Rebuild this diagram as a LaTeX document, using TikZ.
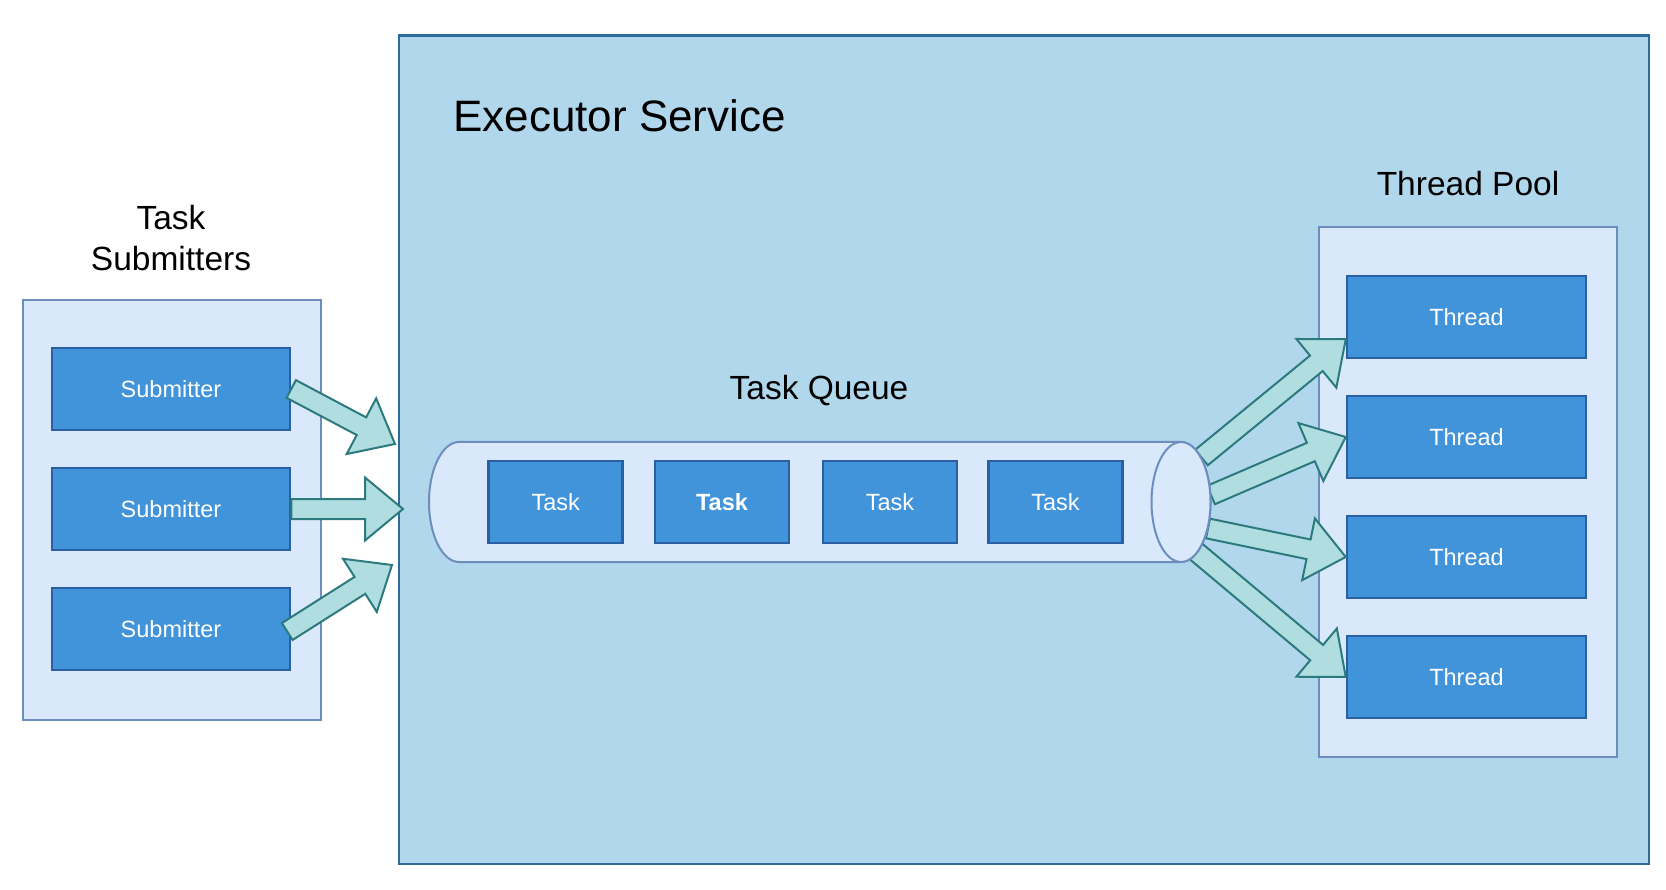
\documentclass[tikz,border=0pt]{standalone}
\usepackage{fontspec}
\setmainfont{Liberation Sans}
\usetikzlibrary{calc}
\definecolor{execfill}{HTML}{B1D7EC}
\definecolor{execline}{HTML}{2D6B9A}
\definecolor{contfill}{HTML}{DAE8FC}
\definecolor{contline}{HTML}{6C8EBF}
\definecolor{boxfill}{HTML}{4193DA}
\definecolor{boxline}{HTML}{2A5FA3}
\definecolor{arrfill}{HTML}{B0DDE0}
\definecolor{arrline}{HTML}{2C7A7E}
\newcommand{\flexarrow}[2]{%
  \path ($(#2)!38pt!(#1)$) coordinate (fa-h);
  \filldraw[flexarr] ($(#1)!10pt!90:(#2)$) -- ($(fa-h)!10pt!-90:(#1)$)
    -- ($(fa-h)!31.5pt!-90:(#1)$) -- (#2) -- ($(fa-h)!31.5pt!90:(#1)$)
    -- ($(fa-h)!10pt!90:(#1)$) -- ($(#1)!10pt!-90:(#2)$) -- cycle;
}
\begin{document}
\begin{tikzpicture}[x=1pt,y=-1pt,
  execbox/.style={draw=execline, fill=execfill, line width=2.2pt, inner sep=0pt, anchor=north west},
  cont/.style={draw=contline, fill=contfill, line width=2pt, inner sep=0pt, anchor=north west},
  bluebox/.style={draw=boxline, fill=boxfill, line width=2.5pt, inner sep=0pt, text=white,
    font=\fontsize{23.5}{28}\selectfont},
  subbox/.style={bluebox, minimum width=238pt, minimum height=82pt},
  thbox/.style={bluebox, minimum width=239pt, minimum height=82pt},
  taskbox/.style={bluebox, minimum width=134pt, minimum height=82pt},
  lbl/.style={inner sep=0pt, font=\fontsize{33.5}{40.7}\selectfont},
  cyl/.style={draw=contline, fill=contfill, line width=2pt},
  flexarr/.style={draw=arrline, fill=arrfill, line width=2pt, line join=miter},
]
\useasboundingbox (0,0) rectangle (1666,890);

% containers
\node[execbox, minimum width=1250pt, minimum height=828pt] (exec) at (397.5,34.5) {};
\node[cont, minimum width=298pt, minimum height=420pt] (subs) at (22,299) {};
\node[cont, minimum width=298pt, minimum height=530pt] (pool) at (1318,226) {};

% submitters
\node[subbox] (s1) at (171,389) {Submitter};
\node[subbox] (s2) at (171,509) {Submitter};
\node[subbox] (s3) at (171,629) {Submitter};

% threads
\node[thbox] (t1) at (1466.5,317) {Thread};
\node[thbox] (t2) at (1466.5,437) {Thread};
\node[thbox] (t3) at (1466.5,557) {Thread};
\node[thbox] (t4) at (1466.5,677) {Thread};

% right arrows (behind the queue end)
\coordinate (qa) at (1201.5,457.5);
\coordinate (qb) at (1211,495);
\coordinate (qc) at (1208,528.5);
\coordinate (qd) at (1196,551.5);
\coordinate (pa) at ($(t1.south west)+(0,-20)$);
\flexarrow{qa}{pa}
\flexarrow{qb}{t2.west}
\flexarrow{qc}{t3.west}
\flexarrow{qd}{t4.west}

% task queue cylinder
\draw[cyl] (1181,442) -- (459,442) arc[start angle=270, end angle=90, x radius=30, y radius=60]
  -- (1181,562) arc[start angle=90, end angle=-90, x radius=29.5, y radius=60] -- cycle;
\draw[cyl] (1181,502) ellipse [x radius=29.5, y radius=60];
\coordinate (qend) at (1181,502);

% tasks
\node[taskbox] (k1) at (555.7,502) {Task};
\node[taskbox] (k2) at (722,502) {\bfseries Task};
\node[taskbox] (k3) at (890,502) {Task};
\node[taskbox] (k4) at (1055.5,502) {Task};

% left arrows
\coordinate (ea) at (395,444);
\coordinate (eb) at (403,509);
\coordinate (ec) at (392,565);
\flexarrow{s1.east}{ea}
\flexarrow{s2.east}{eb}
\flexarrow{$(s3.east)+(-4,2.5)$}{ec}

% labels
\node[inner sep=0pt, anchor=base west, font=\fontsize{44}{52}\selectfont] (title) at (453,132) {Executor Service};
\node[lbl, anchor=base] (lq) at (819,400) {Task Queue};
\node[lbl, anchor=base] (lp) at (1468,196) {Thread Pool};
\node[lbl, anchor=north, align=center] (ls) at (171,205) {Task\\Submitters};
\end{tikzpicture}
\end{document}
